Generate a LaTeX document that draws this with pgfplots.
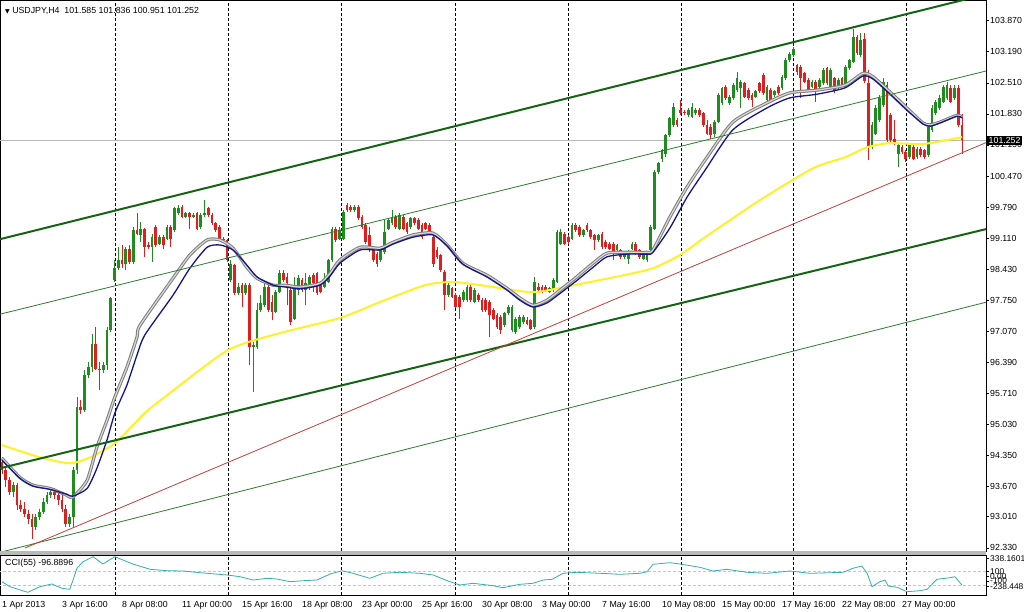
\documentclass[border=0pt]{standalone}
\usepackage{pgfplots}
\pgfplotsset{compat=1.18}
\usepackage{pgfplotstable}
\usepackage{fontspec}
\setmainfont{Liberation Sans}
\newfontfamily\symfont{DejaVu Sans}
\newcommand{\fs}{\fontsize{8.8}{10}\selectfont}

\definecolor{bull}{RGB}{30,140,30}
\definecolor{bear}{RGB}{225,30,30}
\definecolor{chanthick}{RGB}{20,100,20}
\definecolor{chanthin}{RGB}{45,125,45}
\definecolor{trendred}{RGB}{200,60,60}
\definecolor{maYellow}{RGB}{255,240,40}
\definecolor{maGray}{RGB}{125,125,125}
\definecolor{maLight}{RGB}{215,215,215}
\definecolor{maBlue}{RGB}{20,20,140}
\definecolor{cciline}{RGB}{50,175,175}

% H4 candles, bar index from 1 Apr 2013 00:00
\pgfplotstableread{
i o h l c
0 94.21 94.32 93.95 94.03
1 94.03 94.10 93.66 93.81
2 93.81 93.88 93.48 93.55
3 93.55 93.77 93.44 93.70
4 93.70 93.74 93.15 93.26
5 93.26 93.37 93.12 93.19
6 93.19 93.33 93.01 93.08
7 93.08 93.15 92.86 92.97
8 92.97 93.08 92.53 92.79
9 92.79 93.08 92.71 93.01
10 93.01 93.19 92.93 93.12
11 93.12 93.41 93.08 93.33
12 93.33 93.55 93.30 93.48
13 93.48 93.63 93.41 93.55
14 93.55 93.63 93.40 93.48
15 93.48 93.59 93.26 93.37
16 93.37 93.52 93.12 93.19
17 93.19 93.26 92.79 92.86
18 92.86 93.08 92.79 93.01
19 93.01 94.10 92.79 94.03
20 94.03 95.63 93.95 95.42
21 95.42 95.56 95.27 95.34
22 95.34 96.22 95.31 96.11
23 96.11 96.40 96.04 96.29
24 96.29 97.02 96.18 96.80
25 96.80 97.17 96.22 96.25
26 96.25 96.40 95.78 96.22
27 96.22 96.40 96.15 96.33
28 96.33 97.17 96.22 97.09
29 97.09 97.82 97.06 97.79
30 98.19 98.63 98.15 98.45
31 98.45 98.92 98.41 98.63
32 98.63 98.96 98.45 98.55
33 98.55 98.92 98.41 98.88
34 98.88 98.96 98.55 98.59
35 98.59 99.36 98.55 99.28
36 99.28 99.65 99.17 99.21
37 99.18 99.47 99.03 99.32
38 99.30 99.33 98.70 98.92
39 98.96 99.03 98.88 98.92
40 98.92 99.21 98.59 99.14
41 99.36 99.39 98.92 98.96
42 98.99 99.18 98.96 99.14
43 99.14 99.18 98.88 98.96
44 99.10 99.39 99.07 99.36
45 99.36 99.39 98.92 99.10
46 99.28 99.80 99.25 99.76
47 99.65 99.83 99.61 99.76
48 99.80 99.83 99.54 99.58
49 99.58 99.69 99.54 99.65
50 99.65 99.69 99.32 99.58
51 99.58 99.65 99.54 99.61
52 99.65 99.69 99.28 99.32
53 99.36 99.65 99.32 99.61
54 99.61 99.94 99.58 99.65
55 99.76 99.80 99.58 99.61
56 99.61 99.65 99.39 99.43
57 99.43 99.47 99.25 99.28
58 99.36 99.39 99.07 99.10
59 99.10 99.14 99.03 99.07
60 99.07 99.10 98.59 98.63
61 98.19 98.63 98.15 98.55
62 98.52 98.55 97.86 97.90
63 97.90 98.12 97.86 98.04
64 98.08 98.12 97.60 97.90
65 97.90 98.12 97.86 98.08
66 98.08 98.12 96.33 96.73
67 96.73 96.84 95.74 96.77
68 96.73 97.68 96.69 97.53
69 97.53 97.86 97.50 97.68
70 97.64 98.12 97.60 98.04
71 98.04 98.08 97.50 97.53
72 97.71 97.86 97.31 97.50
73 97.50 97.97 97.46 97.93
74 97.93 98.41 97.90 98.34
75 98.34 98.41 98.15 98.19
76 98.26 98.34 97.64 98.12
77 97.97 98.01 97.20 97.28
78 97.35 98.26 97.31 98.08
79 97.97 98.30 97.86 98.23
80 98.19 98.23 97.93 97.97
81 97.97 98.34 97.64 98.12
82 98.01 98.30 97.97 98.26
83 98.30 98.34 97.93 98.12
84 98.34 98.37 97.86 97.90
85 98.12 98.15 97.90 97.93
86 98.04 98.34 98.01 98.15
87 98.15 98.66 98.12 98.63
88 98.63 99.36 98.59 99.32
89 99.32 99.36 99.03 99.07
90 99.10 99.36 99.07 99.28
91 99.10 99.72 99.07 99.69
92 99.83 99.87 99.69 99.72
93 99.80 99.83 99.69 99.72
94 99.72 99.83 99.69 99.80
95 99.80 99.83 99.50 99.54
96 99.58 99.61 99.32 99.36
97 99.39 99.43 98.99 99.03
98 99.18 99.36 98.81 98.85
99 98.85 98.88 98.59 98.63
100 98.77 98.81 98.48 98.55
101 98.63 98.88 98.59 98.85
102 98.81 99.50 98.77 99.25
103 99.32 99.54 99.28 99.50
104 99.43 99.72 99.39 99.58
105 99.58 99.61 99.32 99.36
106 99.32 99.65 99.28 99.61
107 99.58 99.61 99.28 99.32
108 99.43 99.47 99.21 99.25
109 99.36 99.58 99.32 99.54
110 99.54 99.58 99.39 99.43
111 99.50 99.54 99.28 99.32
112 99.39 99.43 99.10 99.14
113 99.43 99.47 99.28 99.32
114 99.39 99.43 99.18 99.21
115 99.14 99.18 98.48 98.55
116 98.85 98.92 98.66 98.70
117 98.74 98.77 98.37 98.41
118 98.37 98.41 97.53 97.86
119 97.86 98.12 97.82 98.08
120 98.01 98.04 97.79 97.82
121 97.86 97.90 97.57 97.61
122 97.82 97.86 97.35 97.61
123 97.75 97.97 97.71 97.93
124 97.75 98.08 97.71 98.04
125 98.04 98.12 97.71 97.75
126 97.71 98.01 97.68 97.97
127 97.86 97.90 97.71 97.75
128 97.75 97.79 97.50 97.53
129 97.75 97.79 97.49 97.53
130 97.71 97.75 96.95 97.42
131 97.53 97.57 97.31 97.35
132 97.42 97.46 97.13 97.17
133 97.39 97.42 97.02 97.09
134 97.20 97.50 97.17 97.46
135 97.46 97.64 97.42 97.61
136 97.09 97.64 97.06 97.61
137 97.06 97.39 97.02 97.35
138 97.17 97.42 97.13 97.39
139 97.28 97.42 97.24 97.39
140 97.31 97.39 97.20 97.24
141 97.31 97.35 97.09 97.13
142 97.17 98.26 97.13 98.15
143 98.04 98.12 97.93 97.97
144 98.04 98.08 97.90 97.93
145 98.04 98.08 97.93 97.97
146 97.93 98.04 97.90 98.01
147 97.97 98.23 97.93 98.19
148 98.15 99.28 98.12 99.25
149 98.99 99.32 98.96 99.25
150 99.21 99.25 98.96 98.99
151 99.14 99.18 98.99 99.03
152 99.10 99.43 99.07 99.40
153 99.40 99.43 99.25 99.29
154 99.36 99.40 99.14 99.18
155 99.18 99.32 99.14 99.29
156 99.40 99.43 99.25 99.29
157 99.29 99.32 99.10 99.14
158 99.18 99.21 98.85 99.07
159 99.07 99.21 99.03 99.18
160 99.21 99.25 98.88 98.92
161 99.03 99.07 98.88 98.92
162 98.99 99.03 98.85 98.88
163 98.99 99.03 98.63 98.81
164 98.85 98.99 98.81 98.96
165 98.85 98.88 98.66 98.70
166 98.70 98.81 98.66 98.77
167 98.66 98.85 98.55 98.81
168 98.88 99.03 98.85 98.99
169 98.99 99.03 98.74 98.77
170 98.85 98.88 98.66 98.70
171 98.66 98.77 98.63 98.74
172 98.63 98.81 98.59 98.77
173 98.85 99.40 98.81 99.36
174 99.32 100.60 99.29 100.56
175 100.56 100.78 100.52 100.75
176 100.85 101.07 100.78 101.04
177 100.96 101.40 100.89 101.37
178 101.37 101.77 101.33 101.73
179 101.59 102.06 101.55 101.99
180 101.70 101.73 101.55 101.59
181 101.91 102.13 101.80 101.84
182 101.88 101.91 101.80 101.84
183 101.80 101.95 101.77 101.91
184 101.77 102.06 101.73 101.99
185 101.84 101.95 101.80 101.91
186 101.91 101.95 101.77 101.80
187 101.84 101.88 101.55 101.58
188 101.58 101.69 101.37 101.40
189 101.55 101.60 101.29 101.37
190 101.40 101.69 101.33 101.66
191 101.66 102.28 101.62 102.24
192 102.06 102.42 102.02 102.39
193 102.42 102.46 102.13 102.17
194 102.06 102.24 102.02 102.21
195 102.17 102.50 102.13 102.46
196 102.35 102.75 102.31 102.61
197 102.39 102.57 101.95 102.53
198 102.50 102.53 102.17 102.21
199 102.35 102.39 102.13 102.17
200 102.24 102.28 101.99 102.13
201 102.21 102.35 102.17 102.32
202 102.50 102.53 102.28 102.32
203 102.68 102.72 102.24 102.28
204 102.13 102.46 102.10 102.42
205 102.35 102.39 102.10 102.13
206 102.24 102.35 102.21 102.32
207 102.42 102.46 102.24 102.28
208 102.39 102.68 102.35 102.64
209 102.61 103.05 102.57 103.01
210 103.01 103.19 102.97 103.15
211 103.12 103.30 103.08 103.26
212 102.90 102.93 102.68 102.75
213 102.86 102.90 102.17 102.61
214 102.72 102.75 102.50 102.53
215 102.57 102.61 102.31 102.35
216 102.42 102.57 102.39 102.53
217 102.53 102.57 102.10 102.35
218 102.42 102.61 102.39 102.57
219 102.50 102.83 102.46 102.79
220 102.83 102.86 102.46 102.50
221 102.42 102.83 102.39 102.79
222 102.61 102.64 102.28 102.32
223 102.39 102.61 102.35 102.57
224 102.61 102.64 102.42 102.46
225 102.46 102.90 102.42 102.86
226 102.83 103.04 102.79 103.01
227 102.97 103.68 102.94 103.52
228 103.52 103.56 103.12 103.16
229 103.12 103.60 103.08 103.45
230 103.48 103.59 102.50 102.54
231 102.50 102.79 100.82 101.11
232 101.11 101.66 101.07 101.59
233 101.40 102.02 101.37 101.95
234 101.69 102.24 101.66 102.17
235 102.02 102.61 101.99 102.53
236 102.46 102.53 101.22 101.26
237 101.80 101.84 101.18 101.26
238 101.29 101.69 101.15 101.18
239 100.96 101.18 100.67 101.15
240 101.11 101.15 100.96 101.00
241 101.00 101.04 100.78 100.85
242 100.89 101.18 100.85 101.15
243 101.11 101.15 100.82 100.85
244 100.89 101.11 100.85 101.07
245 101.07 101.11 100.89 100.93
246 101.04 101.07 100.85 100.89
247 100.93 101.59 100.89 101.55
248 101.48 102.02 101.44 101.95
249 101.84 102.13 101.80 102.10
250 101.95 102.24 101.91 102.17
251 102.10 102.46 102.06 102.42
252 102.17 102.53 102.13 102.46
253 102.39 102.46 102.06 102.10
254 102.17 102.46 102.13 102.39
255 102.39 102.46 101.55 101.59
256 101.585 101.836 100.951 101.252
}\candles

\pgfplotstableread{
i p
0 94.29
4.8 93.87
8.3 93.70
12.8 93.63
17.3 93.48
18.9 93.44
22.7 93.81
25.3 94.53
28 95.12
30.1 95.63
33.3 96.28
36 96.94
36.8 97.20
45.6 98.23
50.1 98.74
54.7 99.07
58.1 99.07
61.6 98.89
65.3 98.47
68 98.23
72.3 98.08
75.5 98.08
79.5 98.04
84.8 98.12
87.5 98.34
90.1 98.63
95.5 98.91
100.8 98.89
104.3 99.02
109.6 99.18
114.9 99.22
118.7 98.96
122.9 98.56
129.3 98.30
134.7 98.01
138.1 97.80
141.6 97.64
145.3 97.75
148.8 97.97
152.8 98.23
157.6 98.56
161.3 98.78
166.7 98.80
172 98.80
173.6 98.85
178.1 99.57
182.7 100.23
187.5 100.82
194.9 101.65
204 102.07
210.1 102.29
217.3 102.35
224.8 102.46
229.6 102.72
232.3 102.64
236.8 102.31
241.3 101.96
245.6 101.63
247.5 101.59
250.1 101.65
254.7 101.80
256 101.76
}\magray

\pgfplotstableread{
i p
0 94.25
4.8 93.85
8.3 93.68
12.8 93.61
17.3 93.50
18.9 93.46
22.7 93.63
25.3 94.07
28 94.69
30.1 95.28
33.3 95.89
36 96.55
38.1 96.99
45.6 97.86
50.1 98.45
54.7 98.91
58.1 98.96
61.6 98.85
65.3 98.52
68 98.26
72.3 98.08
75.5 98.04
79.5 98.00
84.8 98.08
87.5 98.28
90.1 98.56
95.5 98.85
100.8 98.85
104.3 98.98
109.6 99.13
114.9 99.18
118.7 98.94
122.9 98.54
129.3 98.26
134.7 97.97
138.1 97.75
141.6 97.60
145.3 97.69
148.8 97.90
152.8 98.15
157.6 98.47
161.3 98.70
166.7 98.76
172 98.76
173.6 98.80
178.1 99.33
182.7 100.01
187.5 100.60
194.9 101.48
204 101.96
210.1 102.18
217.3 102.26
224.8 102.40
229.6 102.66
232.3 102.59
236.8 102.26
241.3 101.91
245.6 101.61
247.5 101.56
250.1 101.63
254.7 101.78
256 101.74
}\mablue

\pgfplotstableread{
i p
0 94.58
10.1 94.31
18.1 94.18
23.5 94.31
30.1 94.62
38.1 95.28
44 95.67
60.3 96.66
74.1 97.03
90.1 97.36
100.8 97.71
112.8 98.08
120.3 98.15
129.3 98.06
138.1 97.95
142.7 97.93
150.1 98.04
164.8 98.28
173.6 98.45
180.8 98.74
187.5 99.13
202.1 99.94
216.3 100.64
224.8 100.88
230.7 101.10
236.8 101.19
245.6 101.17
256 101.32
}\mayellow

\pgfplotstableread{
i v
0 -46.7
2.1 -118.8
6.9 -199.5
10.1 -118.8
13.3 -79.9
16 -141.9
18.1 -156.3
20 146.4
21.6 241.6
24.3 313.7
26.9 208.4
30.1 313.7
34.9 208.4
39.5 132.0
44 111.8
48.3 107.5
52.8 83.0
60 49.9
63.5 25.4
67 -22.2
70.7 2.3
73.3 -7.8
76.8 -46.7
80.3 -32.3
84 -22.2
87.5 64.3
90.7 111.8
93.6 74.4
98.1 2.3
101.6 74.4
106.1 88.8
111.5 74.4
115 49.9
118.7 -32.3
122.1 -94.3
125.6 -69.8
131 -104.4
133.6 -133.2
138.1 -84.2
141.6 -69.8
144.3 -22.2
146.7 -12.1
149.6 74.4
153.3 88.8
159.5 74.4
164.8 60.0
170.1 74.4
172 97.4
173.6 204.1
178.1 227.2
180.8 208.4
186.1 160.9
189.6 107.5
193.3 132.0
198.7 88.8
204 74.4
210.1 107.5
215.5 74.4
220.8 83.0
224.3 88.8
226.9 146.4
229.3 179.6
230.7 74.4
232 -118.8
234.1 -46.7
235.5 -22.2
236.3 -108.7
238.7 -127.4
241.3 -190.9
244.8 -176.5
246.7 -156.3
249.3 -12.1
252.8 10.9
254.1 25.4
256 -96.9
}\cci

\pgfplotsset{
  mt4/.style={
    scale only axis, anchor=south west,
    xmin=-0.53, xmax=262.4,
    axis line style={black, line width=0.8pt},
    tick label style={font=\fs},
    ytick pos=right, yticklabel pos=right,
    tick align=outside, major tick length=3pt,
    ytick style={black, line width=0.6pt},
    yticklabel style={anchor=west, inner sep=0pt, xshift=1pt},
    extra x ticks={30.13,60.27,90.59,120.8,150.9,181.1,211.0,241.1},
    extra x tick labels={},
    extra x tick style={grid=major, major tick length=0pt},
    major grid style={black, dash pattern=on 3pt off 2pt, line width=0.7pt},
  },
}

\begin{document}
\begin{tikzpicture}
\useasboundingbox (0pt,0pt) rectangle (1024pt,611pt);
\fill[white] (0pt,0pt) rectangle (1024pt,611pt);

% price panel
\begin{axis}[mt4,
  at={(0pt,60pt)}, width=986pt, height=551pt,
  ymin=92.26, ymax=104.323,
  xtick=\empty,
  ytick={103.87,103.19,102.51,101.83,101.15,100.47,99.79,99.11,98.43,97.75,97.07,96.39,95.71,95.03,94.35,93.67,93.01,92.33},
  yticklabels={103.870,103.190,102.510,101.830,101.150,100.470,99.790,99.110,98.430,97.750,97.070,96.390,95.710,95.030,94.350,93.670,93.010,92.330},
]
% current bid line
\addplot[gray!55, line width=0.6pt] coordinates {(-1,101.252) (265,101.252)};

% candles: wicks then bodies
\addplot[bull, line width=0.9pt, restrict expr to domain={\thisrow{c}-\thisrow{o}}{0:50},
  quiver={u=0, v={\thisrow{h}-\thisrow{l}}}] table[x=i, y=l] {\candles};
\addplot[bear, line width=0.9pt, restrict expr to domain={\thisrow{o}-\thisrow{c}}{0.00001:50},
  quiver={u=0, v={\thisrow{h}-\thisrow{l}}}] table[x=i, y=l] {\candles};
\addplot[bull, line width=2.7pt, restrict expr to domain={\thisrow{c}-\thisrow{o}}{0:50},
  quiver={u=0, v={\thisrow{c}-\thisrow{o}}}] table[x=i, y=o] {\candles};
\addplot[bear, line width=2.7pt, restrict expr to domain={\thisrow{o}-\thisrow{c}}{0.00001:50},
  quiver={u=0, v={\thisrow{c}-\thisrow{o}}}] table[x=i, y=o] {\candles};

% moving averages
\addplot[maYellow, line width=2pt, smooth, tension=0.4] table[x=i, y=p] {\mayellow};
\addplot[maGray, line width=3.2pt, smooth, tension=0.4] table[x=i, y=p] {\magray};
\addplot[maLight, line width=1.2pt, smooth, tension=0.4] table[x=i, y=p] {\magray};
\addplot[maBlue, line width=1.3pt, smooth, tension=0.4] table[x=i, y=p] {\mablue};

% channel and trend lines
\addplot[chanthick, line width=2pt] coordinates {(-1,99.077) (265,104.500)};
\addplot[chanthin, line width=0.8pt] coordinates {(-1,97.435) (265,102.821)};
\addplot[chanthick, line width=2pt] coordinates {(-1,94.062) (265,99.359)};
\addplot[chanthin, line width=0.8pt] coordinates {(-1,92.221) (265,97.761)};
\addplot[trendred, line width=0.8pt] coordinates {(6.13,92.325) (265,101.29)};

\coordinate (bid) at (axis cs:262.4,101.252);
\coordinate (ptop) at (rel axis cs:0,1);
\end{axis}

% header and bid price box
\node[anchor=north west, inner sep=0pt, font=\fs] at ([xshift=5pt,yshift=-7pt]ptop)
  {{\symfont\fontsize{6}{7}\selectfont ▼}\ USDJPY,H4\ \ 101.585 101.836 100.951 101.252};
\draw[black, line width=0.6pt] (bid) -- ++(3pt,0pt);
\node[anchor=west, fill=black, text=white, inner xsep=1.5pt, inner ysep=1.5pt, font=\fs] at ([xshift=1pt]bid) {101.252};

% panel separator
\fill[gray!55] (0pt,56pt) rectangle (986pt,60pt);

% CCI panel
\begin{axis}[mt4,
  at={(0pt,16pt)}, width=986pt, height=40pt,
  ymin=-238.448, ymax=338.16,
  xtick={0,16,...,240},
  xticklabels={1 Apr 2013,3 Apr 16:00,8 Apr 08:00,11 Apr 00:00,15 Apr 16:00,18 Apr 08:00,23 Apr 00:00,25 Apr 16:00,30 Apr 08:00,3 May 00:00,7 May 16:00,10 May 08:00,15 May 00:00,17 May 16:00,22 May 08:00,27 May 00:00},
  xticklabel style={anchor=north west, inner sep=0pt, yshift=-3pt},
  xtick style={draw=none},
  ytick={290,100,25,-37,-119},
  yticklabels={338.1601,100,0.00,-100,-238.448},
  yticklabel style={font=\fontsize{8.4}{9}\selectfont},
]
\addplot[gray!45, dash pattern=on 3pt off 2pt, line width=0.6pt] coordinates {(-1,100) (265,100)};
\addplot[gray!45, dash pattern=on 3pt off 2pt, line width=0.6pt] coordinates {(-1,-100) (265,-100)};
\addplot[cciline, line width=0.8pt] table[x=i, y=v] {\cci};
\node[anchor=west, inner sep=0pt, font=\fs] at ([xshift=5pt]rel axis cs:0,0.8) {CCI(55) -96.8896};
\end{axis}
\end{tikzpicture}
\end{document}
